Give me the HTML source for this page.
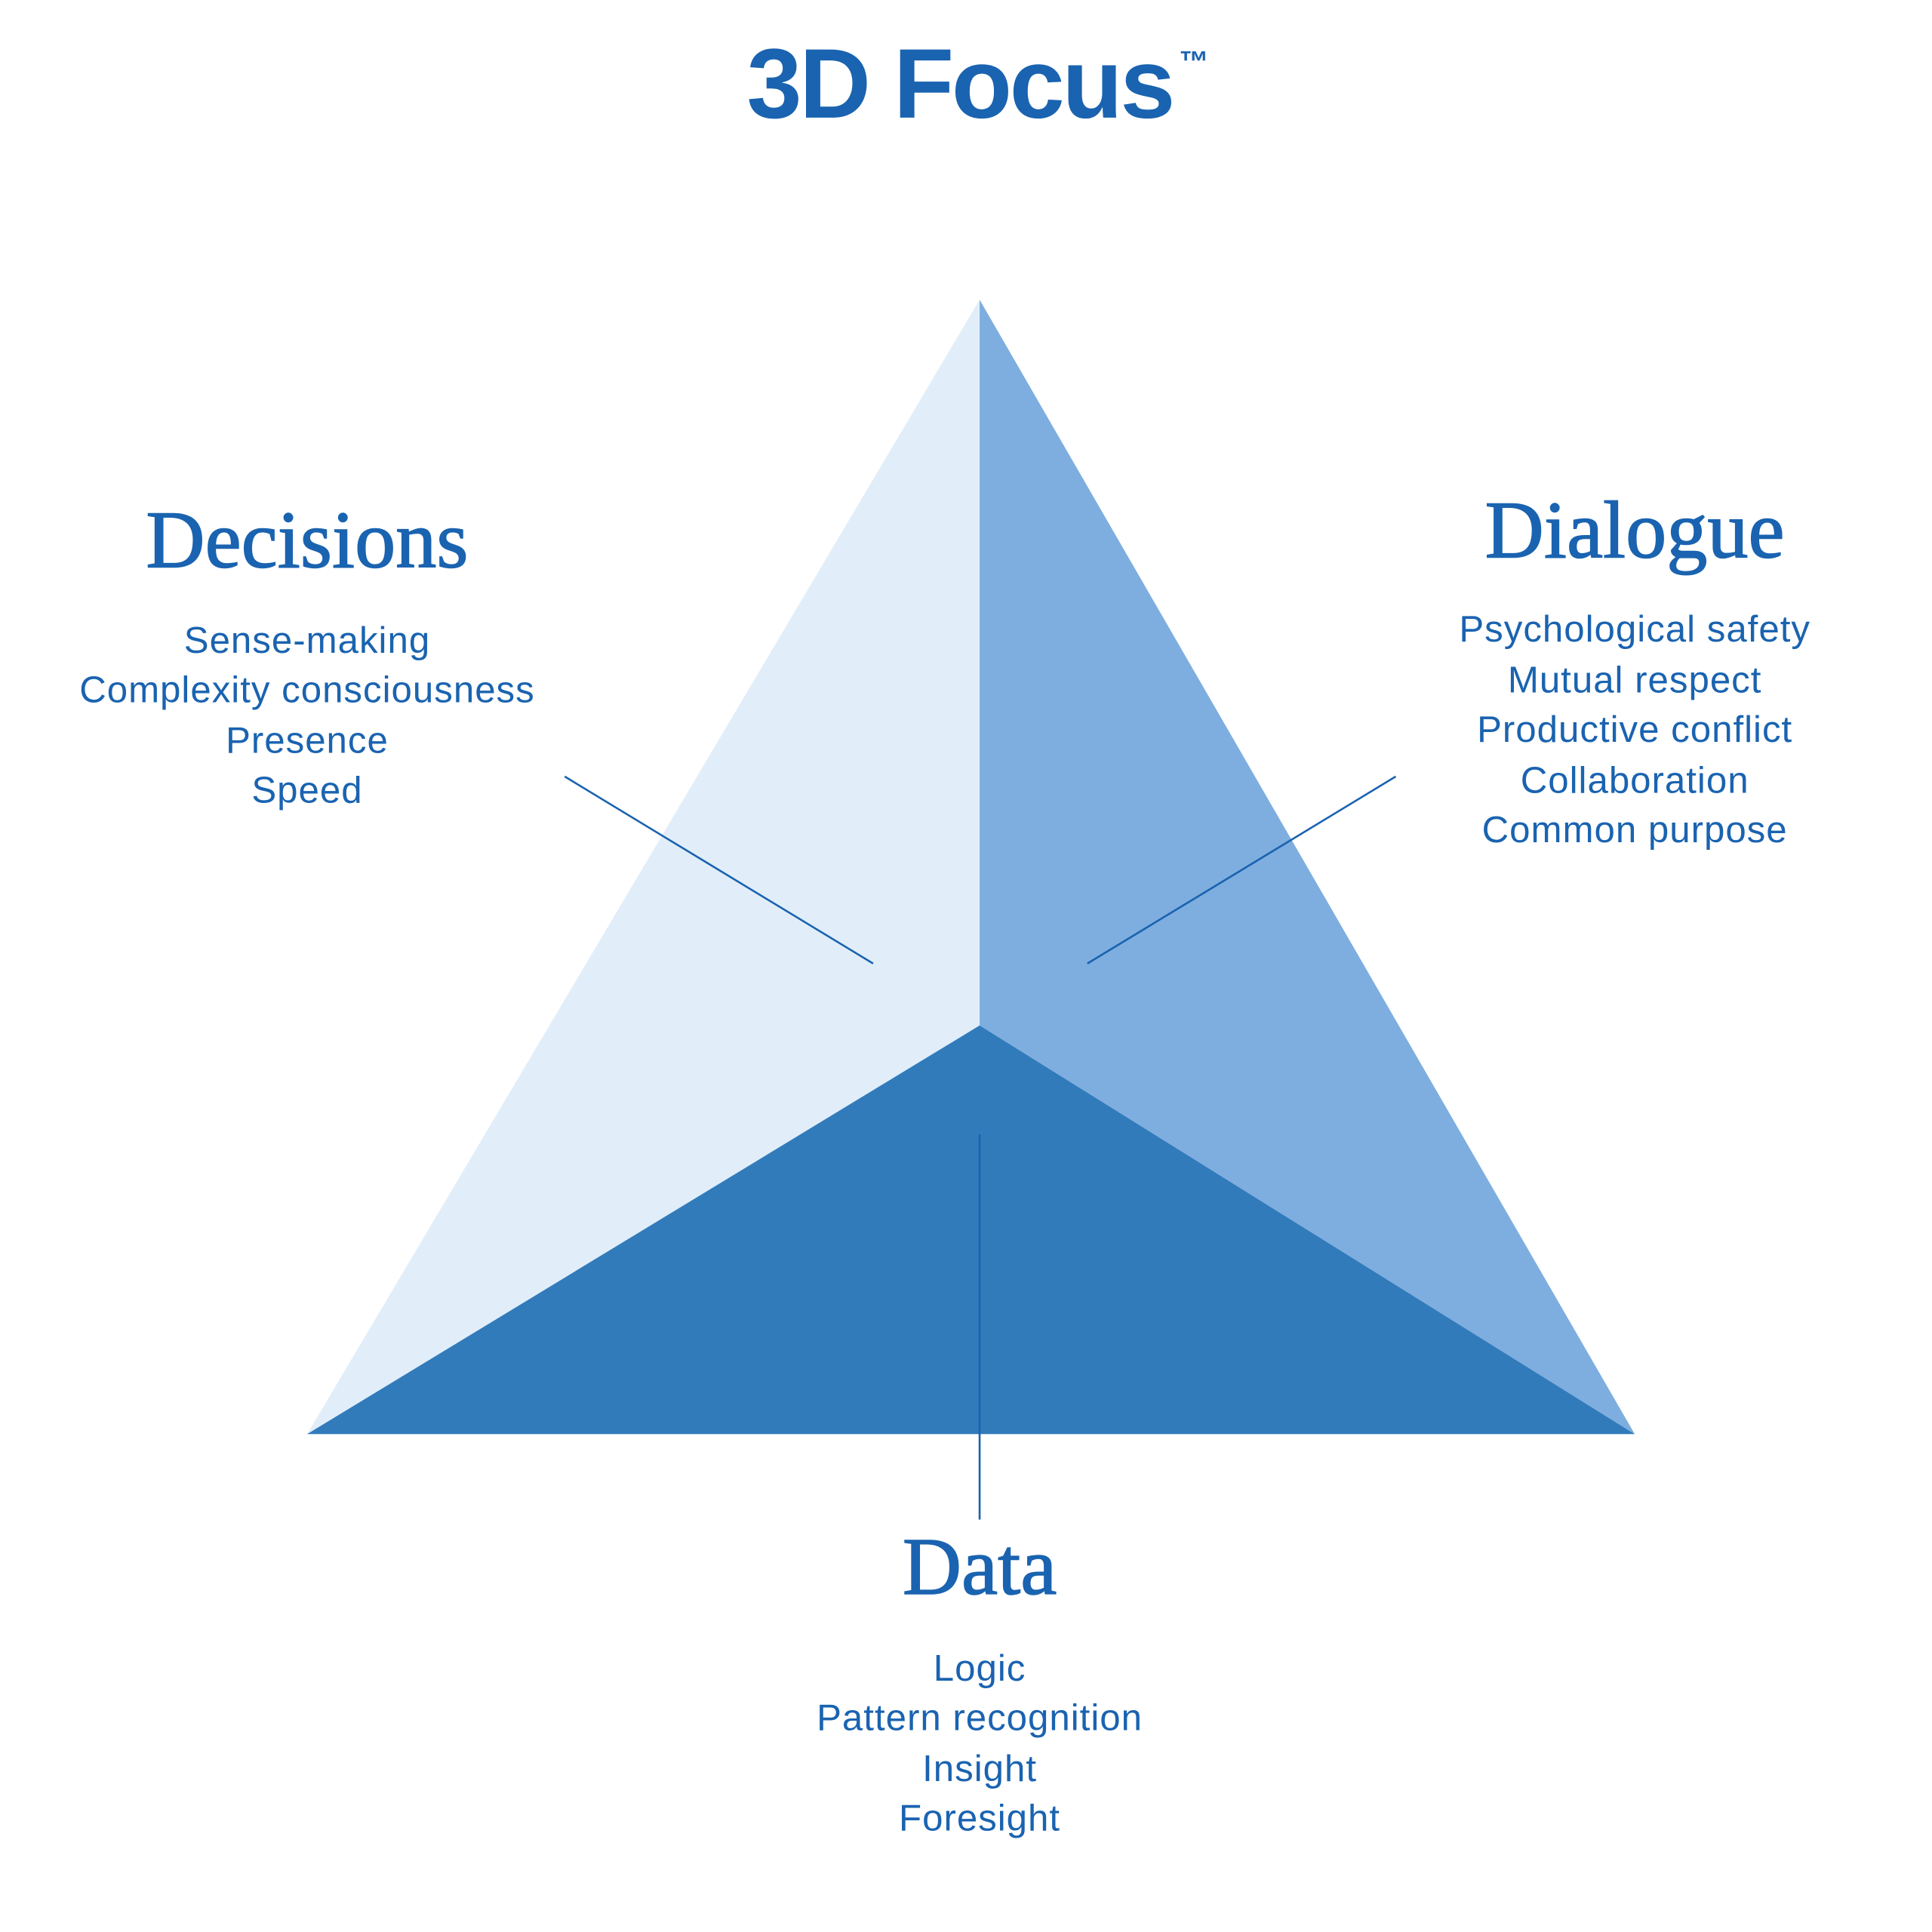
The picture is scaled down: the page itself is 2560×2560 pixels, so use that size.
<!DOCTYPE html>
<html><head><meta charset="utf-8"><style>
html,body{margin:0;padding:0;background:#fff;}
svg{display:block;}
.s{font-family:"Liberation Sans",sans-serif;fill:#1a63b0;}
.t{font-family:"Liberation Serif",serif;fill:#1a63b0;stroke:#1a63b0;stroke-width:0.9;}
</style></head><body>
<svg width="2560" height="2560" viewBox="0 0 1560 1560" xmlns="http://www.w3.org/2000/svg">
<rect width="1560" height="1560" fill="#fff"/>
<polygon points="791,242 791,828 248,1158" fill="#e1eef9"/>
<polygon points="791,242 1320,1158 791,828" fill="#7eaedf"/>
<polygon points="248,1158 791,828 1320,1158" fill="#317bbb"/>
<g stroke="#1a63b0" stroke-width="1.6">
<line x1="456" y1="627" x2="705" y2="778"/>
<line x1="1127" y1="627" x2="878" y2="778"/>
<line x1="791" y1="916" x2="791" y2="1227"/>
</g>
<text class="s" x="775" y="95" text-anchor="middle" font-size="80" font-weight="bold" letter-spacing="-2">3D Focus</text>
<text class="s" x="952" y="58" font-size="24" font-weight="bold">™</text>
<text class="t" x="248" y="458" text-anchor="middle" font-size="66">Decisions</text>
<g class="s" font-size="30" letter-spacing="0.6" text-anchor="middle">
<text x="248" y="527">Sense-making</text>
<text x="248" y="567">Complexity consciousness</text>
<text x="248" y="608">Presence</text>
<text x="248" y="648">Speed</text>
</g>
<text class="t" x="1320" y="450" text-anchor="middle" font-size="66">Dialogue</text>
<g class="s" font-size="30" letter-spacing="0.6" text-anchor="middle">
<text x="1320" y="518">Psychological safety</text>
<text x="1320" y="559">Mutual respect</text>
<text x="1320" y="599">Productive conflict</text>
<text x="1320" y="640">Collaboration</text>
<text x="1320" y="680">Common purpose</text>
</g>
<text class="t" x="791" y="1287" text-anchor="middle" font-size="66">Data</text>
<g class="s" font-size="30" letter-spacing="0.6" text-anchor="middle">
<text x="791" y="1357">Logic</text>
<text x="791" y="1397">Pattern recognition</text>
<text x="791" y="1438">Insight</text>
<text x="791" y="1478">Foresight</text>
</g>
</svg>
</body></html>
